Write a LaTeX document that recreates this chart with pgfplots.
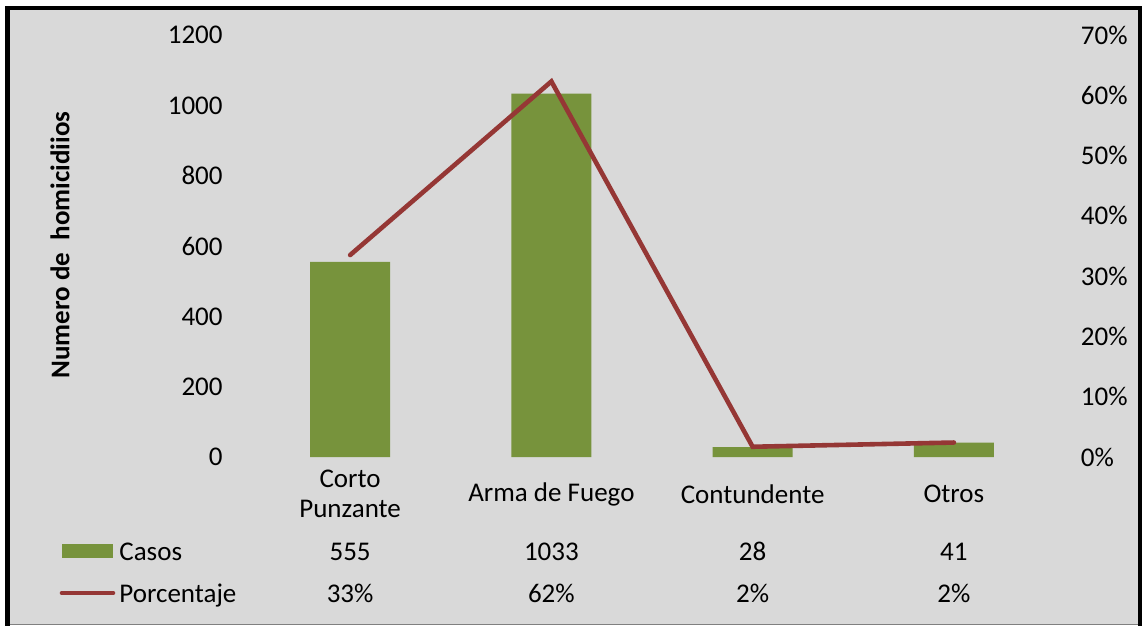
\documentclass[border=0pt]{standalone}
\usepackage{fontspec}
\setmainfont{Carlito}
\usepackage{pgfplots}
\pgfplotsset{compat=1.18}
\definecolor{cbg}{HTML}{D9D9D9}
\definecolor{cbar}{HTML}{77933C}
\definecolor{cline}{HTML}{953735}
\newcommand{\chartfont}{\fontsize{13.5}{15}\selectfont}
% 1 px of the reference = 0.5pt
\pgfplotsset{
  base/.style={
    scale only axis, width=402.5pt, height=211pt,
    at={(124.75pt,-228.5pt)}, anchor=south west,
    xmin=-0.5, xmax=3.5, clip=false,
    axis line style={draw=none},
    major tick length=0pt,
    tick label style={font=\chartfont, inner sep=0pt},
  },
}
\tikzset{cell/.style={font=\chartfont, anchor=base, inner sep=0pt}}

\begin{document}
\begin{tikzpicture}
\useasboundingbox (0,0) rectangle (571.5pt,-313pt);
\fill[white] (0,0) rectangle (571.5pt,-313pt);
\fill[cbg] (5pt,-5pt) rectangle (569pt,-312pt);
\fill[black] (2.5pt,-3pt) rectangle (5pt,-313pt);
\fill[black] (2.5pt,-3pt) rectangle (571pt,-5pt);
\fill[black] (569pt,-3pt) rectangle (571pt,-313pt);
\draw[gray, line width=0.6pt] (5pt,-312.3pt) -- (569pt,-312.3pt);

\begin{axis}[base, ybar, bar width=40pt,
  ymin=0, ymax=1200, ytick={0,200,400,600,800,1000,1200},
  yticklabels={0,200,400,600,800,1000,1200},
  yticklabel style={anchor=east, xshift=-13.25pt},
  xtick={0,1,2,3},
  xticklabels={{Corto\\Punzante},{Arma de Fuego},Contundente,Otros},
  xticklabel style={anchor=center, yshift=-18.5pt, align=center}]
\addplot[fill=cbar, draw=none, bar shift=0pt] coordinates {(0,555) (1,1033) (2,28) (3,41)};
\node[cell] at (axis cs:0,0) [yshift=-51.5pt] {555};
\node[cell] at (axis cs:1,0) [yshift=-51.5pt] {1033};
\node[cell] at (axis cs:2,0) [yshift=-51.5pt] {28};
\node[cell] at (axis cs:3,0) [yshift=-51.5pt] {41};
\node[cell] at (axis cs:0,0) [yshift=-72.5pt] {33\%};
\node[cell] at (axis cs:1,0) [yshift=-72.5pt] {62\%};
\node[cell] at (axis cs:2,0) [yshift=-72.5pt] {2\%};
\node[cell] at (axis cs:3,0) [yshift=-72.5pt] {2\%};
\end{axis}

\begin{axis}[base,
  ymin=0, ymax=0.7, ytick={0,0.1,0.2,0.3,0.4,0.5,0.6,0.7},
  yticklabels={0\%,10\%,20\%,30\%,40\%,50\%,60\%,70\%},
  yticklabel pos=right,
  yticklabel style={anchor=west, xshift=13pt},
  xtick=\empty]
\addplot[cline, line width=2.3pt, line cap=round, mark=none] coordinates {(0,0.335) (1,0.623) (2,0.017) (3,0.024)};
\end{axis}

% legend keys of the data table
\fill[cbar] (31pt,-272pt) rectangle (56.5pt,-279.2pt);
\draw[cline, line width=2.3pt, line cap=round] (31pt,-296.5pt) -- (56.5pt,-296.5pt);
\node[font=\chartfont, anchor=base west, inner sep=0pt] at (59.5pt,-280pt) {Casos};
\node[font=\chartfont, anchor=base west, inner sep=0pt] at (59.5pt,-301pt) {Porcentaje};

\node[font=\chartfont\bfseries, rotate=90] at (30pt,-122.5pt) {Numero de\ \ homicidiios};
\end{tikzpicture}
\end{document}
